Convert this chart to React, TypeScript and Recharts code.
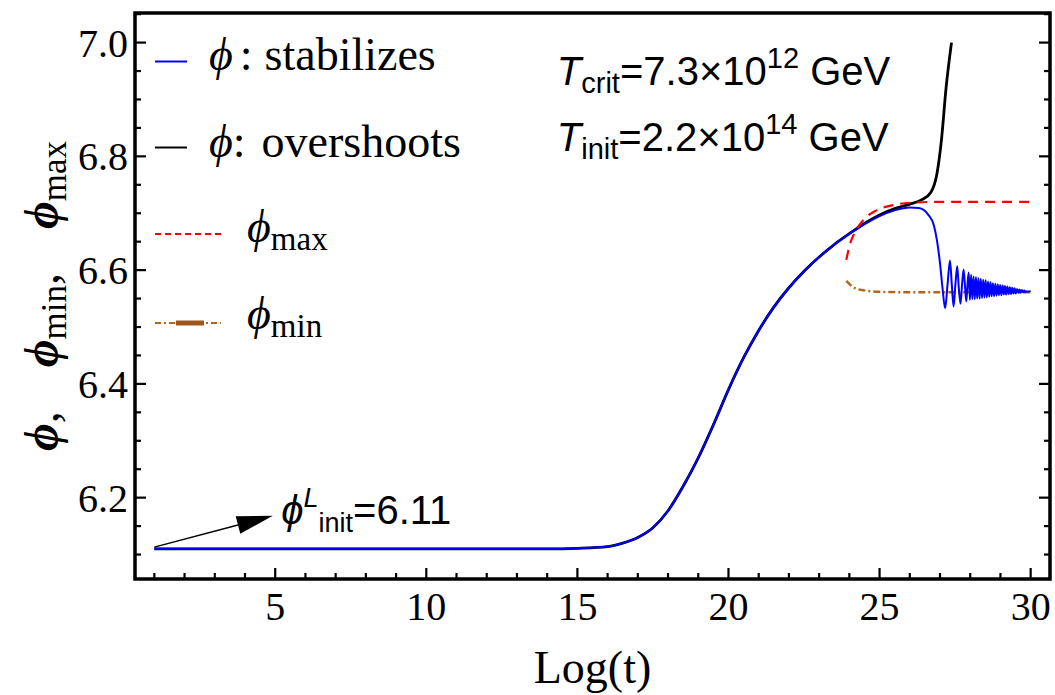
import React from "react";
import {
  LineChart,
  Line,
  XAxis,
  YAxis,
  ReferenceLine,
  ReferenceDot,
  ReferenceArea,
  Legend,
} from "recharts";

// --- data: [Log(t), phi] ---
const stabilizes: [number, number][] = [
  [1, 6.11], [8, 6.11], [14, 6.11], [15, 6.111], [16, 6.114], [16.5, 6.12],
  [17, 6.13], [17.5, 6.147], [18, 6.177], [18.5, 6.22], [19, 6.27],
  [19.5, 6.328], [20, 6.39], [20.5, 6.446], [21, 6.494], [21.5, 6.535],
  [22, 6.569], [22.5, 6.598], [23, 6.623], [23.5, 6.645], [24, 6.664],
  [24.5, 6.681], [25, 6.695], [25.5, 6.705], [26, 6.71], [26.3, 6.709],
  [26.6, 6.698], [26.8, 6.678], [26.9, 6.652], [27.0, 6.612], [27.08, 6.57],
  [27.17, 6.533], [27.25, 6.575], [27.33, 6.617], [27.39, 6.575],
  [27.45, 6.536], [27.51, 6.575], [27.57, 6.607], [27.62, 6.57],
  [27.68, 6.541], [27.73, 6.575], [27.78, 6.601], [27.83, 6.57],
  [27.87, 6.545], [27.91, 6.575], [27.95, 6.596], [27.99, 6.548],
  [28.03, 6.592], [28.07, 6.549], [28.11, 6.589], [28.15, 6.549],
  [28.19, 6.588], [28.23, 6.55], [28.27, 6.586], [28.31, 6.55],
  [28.35, 6.585], [28.39, 6.551], [28.43, 6.583], [28.47, 6.552],
  [28.51, 6.582], [28.55, 6.552], [28.59, 6.58], [28.63, 6.553],
  [28.67, 6.579], [28.71, 6.554], [28.75, 6.577], [28.79, 6.554],
  [28.83, 6.576], [28.87, 6.555], [28.91, 6.575], [28.95, 6.556],
  [28.99, 6.574], [29.03, 6.556], [29.07, 6.573], [29.11, 6.557],
  [29.15, 6.572], [29.19, 6.557], [29.23, 6.571], [29.27, 6.558],
  [29.31, 6.57], [29.35, 6.558], [29.39, 6.569], [29.43, 6.559],
  [29.47, 6.568], [29.51, 6.559], [29.55, 6.567], [29.59, 6.56],
  [29.63, 6.566], [29.67, 6.56], [29.71, 6.565], [29.75, 6.561],
  [29.79, 6.564], [29.83, 6.561], [29.87, 6.563], [29.91, 6.562],
  [29.95, 6.563], [30, 6.562],
];

const overshoots: [number, number][] = [
  [1, 6.11], [8, 6.11], [14, 6.11], [15, 6.111], [16, 6.114], [16.5, 6.12],
  [17, 6.13], [17.5, 6.147], [18, 6.177], [18.5, 6.22], [19, 6.27],
  [19.5, 6.328], [20, 6.39], [20.5, 6.446], [21, 6.494], [21.5, 6.535],
  [22, 6.569], [22.5, 6.598], [23, 6.623], [23.5, 6.645], [24, 6.664],
  [24.5, 6.682], [25, 6.697], [25.5, 6.708], [26, 6.716], [26.4, 6.724],
  [26.7, 6.737], [26.9, 6.77], [27.05, 6.83], [27.2, 6.92], [27.38, 7.0],
];

const phiMax: [number, number][] = [
  [23.9, 6.618], [24.0, 6.642], [24.2, 6.668], [24.5, 6.69], [24.9, 6.705],
  [25.5, 6.715], [26.2, 6.719], [27, 6.72], [30, 6.72],
];

const phiMin: [number, number][] = [
  [23.9, 6.581], [24.1, 6.571], [24.4, 6.565], [25, 6.562], [26, 6.561],
  [28, 6.561], [30, 6.561],
];

const xTicks = [
  1, 2, 3, 4, 5, 6, 7, 8, 9, 10, 11, 12, 13, 14, 15, 16, 17, 18, 19, 20,
  21, 22, 23, 24, 25, 26, 27, 28, 29, 30,
];
const xMajor = [5, 10, 15, 20, 25, 30];
const yTicks = [
  6.1, 6.15, 6.2, 6.25, 6.3, 6.35, 6.4, 6.45, 6.5, 6.55, 6.6, 6.65, 6.7,
  6.75, 6.8, 6.85, 6.9, 6.95, 7.0, 7.05,
];
const yMajor = [6.2, 6.4, 6.6, 6.8, 7.0];

const xDomain: [number, number] = [0.36, 30.64];
const yDomain: [number, number] = [6.057, 7.052];

const arrowFrom = { x: 1, y: 6.113 };
const arrowTo = { x: 4.92, y: 6.168 };

const toRows = (pts: [number, number][]) => pts.map(([x, y]) => ({ x, y }));

const SERIF = "'Liberation Serif', 'Times New Roman', serif";
const SANS = "'Liberation Sans', Arial, sans-serif";

const tickStroke = { stroke: "#000", strokeWidth: 2.2 };
const MINOR = 6; // built-in tick line, drawn inward
const EXTRA = 5; // majors get this much more

const isMajor = (list: number[], v: number) =>
  list.some((m) => Math.abs(m - v) < 1e-6);

// tick props arrive at the inner end of the built-in tick line
const BottomTick = ({ x, y, payload }: any) => {
  if (!isMajor(xMajor, payload.value)) return <g />;
  return (
    <g>
      <line x1={x} x2={x} y1={y} y2={y - EXTRA} stroke="#000" strokeWidth={2.2} />
      <text x={x} y={y + MINOR + 41} textAnchor="middle" fontFamily={SERIF} fontSize={40} fill="#000">
        {payload.value}
      </text>
    </g>
  );
};

const TopTick = ({ x, y, payload }: any) =>
  isMajor(xMajor, payload.value) ? (
    <line x1={x} x2={x} y1={y} y2={y + EXTRA} stroke="#000" strokeWidth={2.2} />
  ) : (
    <g />
  );

const LeftTick = ({ x, y, payload }: any) => {
  if (!isMajor(yMajor, payload.value)) return <g />;
  return (
    <g>
      <line x1={x} x2={x + EXTRA} y1={y} y2={y} stroke="#000" strokeWidth={2.2} />
      <text x={x - MINOR - 7} y={y + 14} textAnchor="end" fontFamily={SERIF} fontSize={40} fill="#000">
        {payload.value.toFixed(1)}
      </text>
    </g>
  );
};

const RightTick = ({ x, y, payload }: any) =>
  isMajor(yMajor, payload.value) ? (
    <line x1={x} x2={x - EXTRA} y1={y} y2={y} stroke="#000" strokeWidth={2.2} />
  ) : (
    <g />
  );

const YTitle = ({ viewBox }: any) => {
  const cx = 58;
  const cy = viewBox.y + viewBox.height / 2;
  return (
    <text
      x={cx}
      y={cy}
      transform={`rotate(-90, ${cx}, ${cy})`}
      textAnchor="middle"
      fontFamily={SERIF}
      fontSize={48}
      fill="#000"
    >
      <tspan fontStyle="italic" fontWeight="bold">ϕ</tspan>
      <tspan>,</tspan>
      <tspan dx={44} fontStyle="italic" fontWeight="bold">ϕ</tspan>
      <tspan fontSize={35} dy={8}>min</tspan>
      <tspan dy={-8}>,</tspan>
      <tspan dx={44} fontStyle="italic" fontWeight="bold">ϕ</tspan>
      <tspan fontSize={35} dy={8}>max</tspan>
    </text>
  );
};

const XTitle = ({ viewBox }: any) => (
  <text
    x={viewBox.x + viewBox.width / 2}
    y={viewBox.y + 104}
    textAnchor="middle"
    fontFamily={SERIF}
    fontSize={46}
    fill="#000"
  >
    Log(t)
  </text>
);

const Arrow = (props: any) => {
  const { x1, y1, x2, y2 } = props;
  const ang = Math.atan2(y2 - y1, x2 - x1);
  const len = 36;
  const half = 9;
  const bx = x2 - len * Math.cos(ang);
  const by = y2 - len * Math.sin(ang);
  const nx = -Math.sin(ang) * half;
  const ny = Math.cos(ang) * half;
  return (
    <g>
      <line x1={x1} y1={y1} x2={bx} y2={by} stroke="#000" strokeWidth={1.5} />
      <polygon points={`${x2},${y2} ${bx + nx},${by + ny} ${bx - nx},${by - ny}`} fill="#000" />
    </g>
  );
};

const TcritText = ({ cx, cy }: any) => (
  <text x={cx} y={cy} fontFamily={SANS} fontSize={40} fill="#000">
    <tspan fontStyle="italic">T</tspan>
    <tspan fontSize={29} dy={8}>crit</tspan>
    <tspan dy={-8}>=7.3×10</tspan>
    <tspan fontSize={29} dy={-17}>12</tspan>
    <tspan dy={17}>{" GeV"}</tspan>
  </text>
);

const TinitText = ({ cx, cy }: any) => (
  <text x={cx} y={cy} fontFamily={SANS} fontSize={40} fill="#000">
    <tspan fontStyle="italic">T</tspan>
    <tspan fontSize={29} dy={8}>init</tspan>
    <tspan dy={-8}>=2.2×10</tspan>
    <tspan fontSize={29} dy={-17}>14</tspan>
    <tspan dy={17}>{" GeV"}</tspan>
  </text>
);

const PhiInitText = ({ cx, cy }: any) => (
  <text x={cx} y={cy} fontFamily={SANS} fontSize={40} fill="#000">
    <tspan fontStyle="italic">ϕ</tspan>
    <tspan fontSize={27} fontStyle="italic" dy={-17}>L</tspan>
    <tspan fontSize={27} dy={25}>init</tspan>
    <tspan dy={-8}>=6.11</tspan>
  </text>
);

const LegendBox = () => (
  <svg width={360} height={320} style={{ overflow: "visible" }}>
    <line x1={5} x2={37} y1={31.5} y2={31.5} stroke="#0000ff" strokeWidth={2} />
    <text x={59} y={40} fontFamily={SERIF} fontSize={46} fill="#000">
      <tspan fontStyle="italic">ϕ</tspan>
      <tspan dx={7}>:</tspan>
      <tspan dx={12}>stabilizes</tspan>
    </text>
    <line x1={5} x2={37} y1={117.5} y2={117.5} stroke="#000" strokeWidth={2} />
    <text x={59} y={127} fontFamily={SERIF} fontSize={46} fill="#000">
      <tspan fontStyle="italic">ϕ</tspan>
      <tspan>:</tspan>
      <tspan dx={16}>overshoots</tspan>
    </text>
    <line x1={5} x2={72} y1={204} y2={204} stroke="#ff0000" strokeWidth={2} strokeDasharray="6 4" />
    <text x={97} y={212} fontFamily={SERIF} fontSize={46} fill="#000">
      <tspan fontStyle="italic">ϕ</tspan>
      <tspan fontSize={33} dy={8}>max</tspan>
    </text>
    <line x1={5} x2={71} y1={293} y2={293} stroke="#b5651d" strokeWidth={2} strokeDasharray="6 3 2 3" />
    <line x1={26} x2={54} y1={293} y2={293} stroke="#a0561a" strokeWidth={5} />
    <text x={97} y={299} fontFamily={SERIF} fontSize={46} fill="#000">
      <tspan fontStyle="italic">ϕ</tspan>
      <tspan fontSize={33} dy={8}>min</tspan>
    </text>
  </svg>
);

export default function App() {
  return (
    <div style={{ position: "absolute", left: 0, top: 0, width: 1055, height: 695, background: "#fff" }}>
      <LineChart width={1055} height={695} margin={{ top: 12, right: 0, bottom: 0, left: 0 }}>
        <XAxis
          xAxisId="b"
          type="number"
          dataKey="x"
          domain={xDomain}
          ticks={xTicks}
          interval={0}
          allowDataOverflow
          height={116}
          tickSize={-MINOR}
          tickMargin={0}
          tick={BottomTick}
          tickLine={tickStroke}
          axisLine={false}
          label={<XTitle />}
        />
        <XAxis
          xAxisId="t"
          orientation="top"
          type="number"
          domain={xDomain}
          ticks={xTicks}
          interval={0}
          allowDataOverflow
          height={1}
          tickSize={-MINOR}
          tickMargin={0}
          tick={TopTick}
          tickLine={tickStroke}
          axisLine={false}
        />
        <YAxis
          yAxisId="l"
          type="number"
          domain={yDomain}
          ticks={yTicks}
          interval={0}
          allowDataOverflow
          width={135}
          tickSize={-MINOR}
          tickMargin={0}
          tick={LeftTick}
          tickLine={tickStroke}
          axisLine={false}
          label={<YTitle />}
        />
        <YAxis
          yAxisId="r"
          orientation="right"
          type="number"
          domain={yDomain}
          ticks={yTicks}
          interval={0}
          allowDataOverflow
          width={5}
          tickSize={-MINOR}
          tickMargin={0}
          tick={RightTick}
          tickLine={tickStroke}
          axisLine={false}
        />
        <Legend
          layout="vertical"
          align="center"
          verticalAlign="middle"
          content={<LegendBox />}
          wrapperStyle={{ left: 150, top: 30, width: 360, height: 320 }}
        />
        <Line
          xAxisId="b"
          yAxisId="l"
          data={toRows(phiMin)}
          dataKey="y"
          name="phi_min"
          type="monotone"
          stroke="#b5651d"
          strokeWidth={2.4}
          strokeDasharray="7 3 2 3"
          dot={false}
          isAnimationActive={false}
        />
        <Line
          xAxisId="b"
          yAxisId="l"
          data={toRows(overshoots)}
          dataKey="y"
          name="overshoots"
          type="monotone"
          stroke="#000"
          strokeWidth={2.8}
          dot={false}
          isAnimationActive={false}
        />
        <Line
          xAxisId="b"
          yAxisId="l"
          data={toRows(stabilizes)}
          dataKey="y"
          name="stabilizes"
          type="monotone"
          stroke="#0000ff"
          strokeWidth={2}
          dot={false}
          isAnimationActive={false}
        />
        <Line
          xAxisId="b"
          yAxisId="l"
          data={toRows(phiMax)}
          dataKey="y"
          name="phi_max"
          type="monotone"
          stroke="#ff0000"
          strokeWidth={2.2}
          strokeDasharray="10 7"
          dot={false}
          isAnimationActive={false}
        />
        {/* plot frame */}
        <ReferenceArea
          xAxisId="b"
          yAxisId="l"
          x1={xDomain[0]}
          x2={xDomain[1]}
          y1={yDomain[0]}
          y2={yDomain[1]}
          fill="none"
          stroke="#000"
          strokeWidth={3.5}
          ifOverflow="visible"
        />
        <ReferenceLine
          xAxisId="b"
          yAxisId="l"
          segment={[arrowFrom, arrowTo]}
          shape={Arrow}
        />
        <ReferenceDot xAxisId="b" yAxisId="l" x={5.2} y={6.154} r={0} shape={PhiInitText} />
        <ReferenceDot xAxisId="b" yAxisId="l" x={14.32} y={6.925} r={0} shape={TcritText} />
        <ReferenceDot xAxisId="b" yAxisId="l" x={14.32} y={6.81} r={0} shape={TinitText} />
      </LineChart>
    </div>
  );
}
